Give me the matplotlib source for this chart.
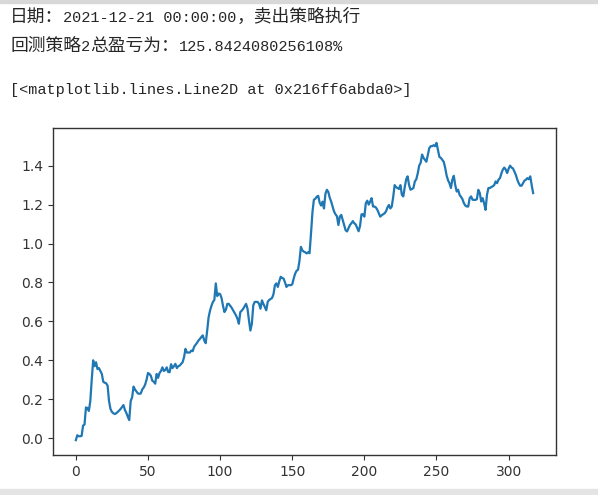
import matplotlib
matplotlib.use("Agg")
import matplotlib.pyplot as plt
from matplotlib.patches import Rectangle

# notebook output lines shown above the chart, split into CJK / latin runs
LINE_DATE = [("日期：", True), ("2021-12-21 00:00:00", False), ("，卖出策略执行", True)]
LINE_PROFIT = [("回测策略", True), ("2", False), ("总盈亏为：", True),
               ("125.8424080256108%", False)]
LINE_REPR = [("[<matplotlib.lines.Line2D at 0x216ff6abda0>]", False)]

# cumulative return, one value per trading day
returns = [
    -0.010, 0.015, 0.010, 0.010, 0.012, 0.065, 0.070, 0.158, 0.155, 0.140,
    0.190, 0.300, 0.400, 0.370, 0.390, 0.355, 0.360, 0.345, 0.330, 0.290,
    0.285, 0.282, 0.270, 0.190, 0.150, 0.135, 0.128, 0.124, 0.128, 0.135,
    0.142, 0.150, 0.160, 0.170, 0.145, 0.130, 0.110, 0.093, 0.190, 0.210,
    0.265, 0.250, 0.240, 0.230, 0.228, 0.230, 0.250, 0.260, 0.275, 0.300,
    0.335, 0.330, 0.320, 0.295, 0.290, 0.280, 0.330, 0.310, 0.335, 0.345,
    0.364, 0.345, 0.350, 0.364, 0.340, 0.339, 0.380, 0.360, 0.370, 0.382,
    0.360, 0.370, 0.373, 0.382, 0.390, 0.416, 0.459, 0.440, 0.440, 0.440,
    0.450, 0.447, 0.470, 0.480, 0.490, 0.502, 0.510, 0.520, 0.528, 0.502,
    0.488, 0.550, 0.620, 0.655, 0.680, 0.700, 0.710, 0.795, 0.730, 0.743,
    0.740, 0.720, 0.680, 0.648, 0.660, 0.690, 0.690, 0.680, 0.670, 0.657,
    0.645, 0.631, 0.614, 0.588, 0.648, 0.655, 0.665, 0.677, 0.690, 0.665,
    0.605, 0.553, 0.588, 0.683, 0.700, 0.700, 0.700, 0.690, 0.665, 0.708,
    0.690, 0.674, 0.657, 0.700, 0.710, 0.715, 0.720, 0.740, 0.786, 0.795,
    0.777, 0.805, 0.829, 0.823, 0.820, 0.800, 0.777, 0.786, 0.786, 0.786,
    0.790, 0.820, 0.845, 0.860, 0.865, 0.910, 0.983, 0.965, 0.958, 0.955,
    0.949, 0.955, 0.950, 1.050, 1.160, 1.225, 1.230, 1.240, 1.245, 1.210,
    1.195, 1.215, 1.180, 1.255, 1.276, 1.265, 1.235, 1.215, 1.190, 1.164,
    1.150, 1.140, 1.095, 1.138, 1.147, 1.120, 1.095, 1.068, 1.062, 1.078,
    1.095, 1.104, 1.115, 1.104, 1.098, 1.080, 1.063, 1.090, 1.150, 1.150,
    1.138, 1.207, 1.220, 1.200, 1.215, 1.233, 1.190, 1.190, 1.185, 1.173,
    1.155, 1.138, 1.145, 1.150, 1.155, 1.165, 1.185, 1.198, 1.180, 1.190,
    1.240, 1.300, 1.290, 1.285, 1.280, 1.300, 1.250, 1.242, 1.290, 1.330,
    1.345, 1.300, 1.276, 1.280, 1.285, 1.319, 1.330, 1.360, 1.400, 1.414,
    1.457, 1.440, 1.430, 1.420, 1.455, 1.490, 1.500, 1.500, 1.505, 1.500,
    1.517, 1.480, 1.445, 1.440, 1.430, 1.420, 1.390, 1.350, 1.325, 1.310,
    1.285, 1.328, 1.348, 1.300, 1.267, 1.276, 1.250, 1.240, 1.228, 1.207,
    1.195, 1.190, 1.190, 1.233, 1.242, 1.225, 1.224, 1.224, 1.228, 1.276,
    1.260, 1.216, 1.233, 1.207, 1.173, 1.250, 1.285, 1.285, 1.290, 1.294,
    1.300, 1.319, 1.310, 1.328, 1.336, 1.360, 1.380, 1.390, 1.380, 1.362,
    1.384, 1.400, 1.390, 1.386, 1.370, 1.353, 1.328, 1.310, 1.297, 1.297,
    1.310, 1.323, 1.328, 1.336, 1.330, 1.345, 1.300, 1.259,
]
days = list(range(len(returns)))

W, H = 598, 495
fig = plt.figure(figsize=(W / 100, H / 100), dpi=100)
renderer = fig.canvas.get_renderer()


def draw_line(parts, base_px):
    # place runs one after another on a shared baseline
    x_px = 10
    for s, cjk in parts:
        if cjk:
            t = fig.text(x_px / W, 1 - base_px / H, s, family=["Noto Sans CJK SC"],
                         fontsize=12.8, fontweight="light", color="#262626",
                         va="baseline", ha="left")
        else:
            t = fig.text(x_px / W, 1 - base_px / H, s, family=["Liberation Mono"],
                         fontsize=11, color="#262626", va="baseline", ha="left")
        x_px += t.get_window_extent(renderer).width


draw_line(LINE_DATE, 22)
draw_line(LINE_PROFIT, 51)
draw_line(LINE_REPR, 94)

# thin grey bands at the screenshot edges
fig.patches.append(Rectangle((0, 1 - 3 / H), 1, 3 / H, transform=fig.transFigure,
                             color="#d8d8d8", zorder=0))
fig.patches.append(Rectangle((0, 0), 1, 6 / H, transform=fig.transFigure,
                             color="#e4e4e4", zorder=0))

ax = fig.add_axes([53 / W, 40 / H, 503 / W, 327 / H])
ax.plot(days, returns, color="#1f77b4", linewidth=1.6)

ax.set_yticks([0.0, 0.2, 0.4, 0.6, 0.8, 1.0, 1.2, 1.4])
ax.set_xticks([0, 50, 100, 150, 200, 250, 300])
ax.tick_params(labelsize=10, colors="#333333")
for spine in ax.spines.values():
    spine.set_color("#333333")
    spine.set_linewidth(1.0)

fig.savefig("out.png", dpi=100)
